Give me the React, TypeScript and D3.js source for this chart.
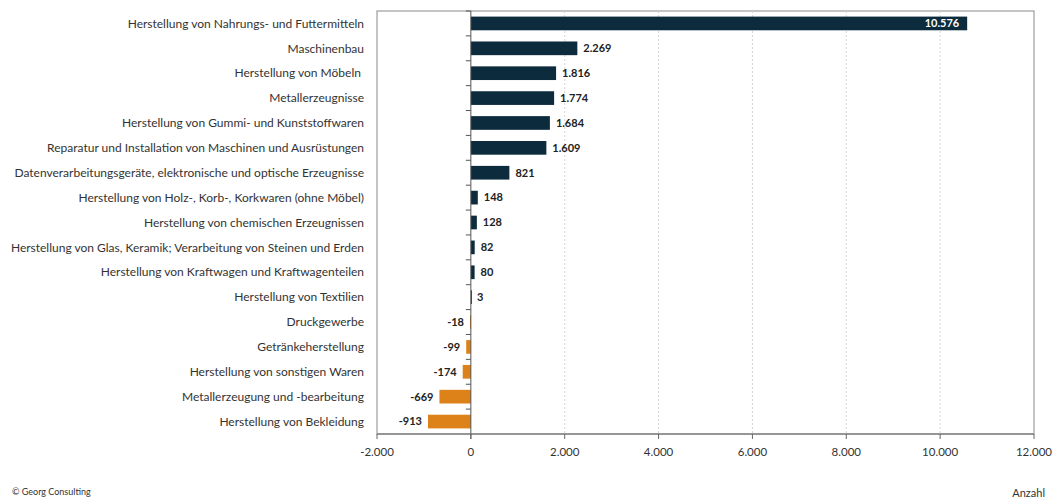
import React from "react";
import * as d3 from "d3";

const categories = [
  "Herstellung von Nahrungs- und Futtermitteln",
  "Maschinenbau",
  "Herstellung von Möbeln ",
  "Metallerzeugnisse",
  "Herstellung von Gummi- und Kunststoffwaren",
  "Reparatur und Installation von Maschinen und Ausrüstungen",
  "Datenverarbeitungsgeräte, elektronische und optische Erzeugnisse",
  "Herstellung von Holz-, Korb-, Korkwaren (ohne Möbel)",
  "Herstellung von chemischen Erzeugnissen",
  "Herstellung von Glas, Keramik; Verarbeitung von Steinen und Erden",
  "Herstellung von Kraftwagen und Kraftwagenteilen",
  "Herstellung von Textilien",
  "Druckgewerbe",
  "Getränkeherstellung",
  "Herstellung von sonstigen Waren",
  "Metallerzeugung und -bearbeitung",
  "Herstellung von Bekleidung",
];
const values = [10576, 2269, 1816, 1774, 1684, 1609, 821, 148, 128, 82, 80, 3, -18, -99, -174, -669, -913];
const xTicks = [-2000, 0, 2000, 4000, 6000, 8000, 10000, 12000];

const W = 1057;
const H = 500;
const left = 377;
const right = 1034;
const top = 11;
const bottom = 434;
const NAVY = "#0c2c3e";
const ORANGE = "#dc8218";
const FONT = "Lato, 'Open Sans', sans-serif";

const fmt = (v: number) => {
  const s = Math.abs(v).toString().replace(/\B(?=(\d{3})+(?!\d))/g, ".");
  return (v < 0 ? "-" : "") + s;
};

export default function App() {
  const x = d3.scaleLinear().domain([-2000, 12000]).range([left, right]);
  const y = d3.scaleBand<string>().domain(categories).range([top, bottom]).paddingInner(0.45).paddingOuter(0.225);
  const yb = d3.scaleBand<string>().domain(categories).range([top, bottom]);
  const x0 = x(0);
  return (
    <svg width={W} height={H} style={{ position: "absolute", left: 0, top: 0, fontFamily: FONT }}>
      <rect x={0} y={0} width={W} height={H} fill="#fff" />
      {/* plot border */}
      <rect x={left} y={top} width={right - left} height={bottom - top} fill="none" stroke="#8a8a8a" strokeWidth={1} />
      {/* gridlines */}
      {xTicks.filter((t) => t > 0 && t < 12000).map((t) => (
        <line key={t} x1={x(t)} x2={x(t)} y1={top} y2={bottom} stroke="#d4d4d4" strokeWidth={1} strokeDasharray="2,2" />
      ))}
      {/* bars */}
      {categories.map((c, i) => {
        const v = values[i];
        const x1 = Math.min(x(v), x0);
        const w = Math.abs(x(v) - x0);
        return <rect key={c} x={x1} y={y(c)} width={Math.max(w, 1)} height={y.bandwidth()} fill={v >= 0 ? NAVY : ORANGE} />;
      })}
      {/* zero axis */}
      <line x1={x0} x2={x0} y1={top} y2={bottom + 5} stroke="#555" strokeWidth={1} />
      {categories.map((c, i) => (
        <line key={"t" + i} x1={x0 - 5} x2={x0} y1={(yb(c) as number)} y2={(yb(c) as number)} stroke="#555" strokeWidth={1} />
      ))}
      {/* bottom axis */}
      <line x1={left} x2={right} y1={bottom} y2={bottom} stroke="#666" strokeWidth={1} />
      {xTicks.map((t) => (
        <g key={"x" + t}>
          <line x1={x(t)} x2={x(t)} y1={bottom} y2={bottom + 5} stroke="#666" strokeWidth={1} />
          <text x={x(t)} y={456} textAnchor="middle" fontSize={11.5} fill="#333">{fmt(t)}</text>
        </g>
      ))}
      {/* category labels */}
      {categories.map((c) => (
        <text key={"l" + c} x={364} y={(y(c) as number) + y.bandwidth() / 2} dy="0.35em" textAnchor="end" fontSize={12} fill="#333" style={{ whiteSpace: "pre" }}>
          {c}
        </text>
      ))}
      {/* value labels */}
      {categories.map((c, i) => {
        const v = values[i];
        const cy = (y(c) as number) + y.bandwidth() / 2;
        if (v > 5000) {
          return <text key={"v" + i} x={x(v) - 8} y={cy} dy="0.35em" textAnchor="end" fontSize={11} fontWeight="bold" fill="#fff">{fmt(v)}</text>;
        }
        if (v >= 0) {
          return <text key={"v" + i} x={x(v) + 6} y={cy} dy="0.35em" textAnchor="start" fontSize={11} fontWeight="bold" fill="#222">{fmt(v)}</text>;
        }
        return <text key={"v" + i} x={x(v) - 6} y={cy} dy="0.35em" textAnchor="end" fontSize={11} fontWeight="bold" fill="#222">{fmt(v)}</text>;
      })}
      <text x={1045} y={497} textAnchor="end" fontSize={11} fill="#333">Anzahl</text>
      <text x={12} y={495} fontSize={9} fill="#333">© Georg Consulting</text>
    </svg>
  );
}
